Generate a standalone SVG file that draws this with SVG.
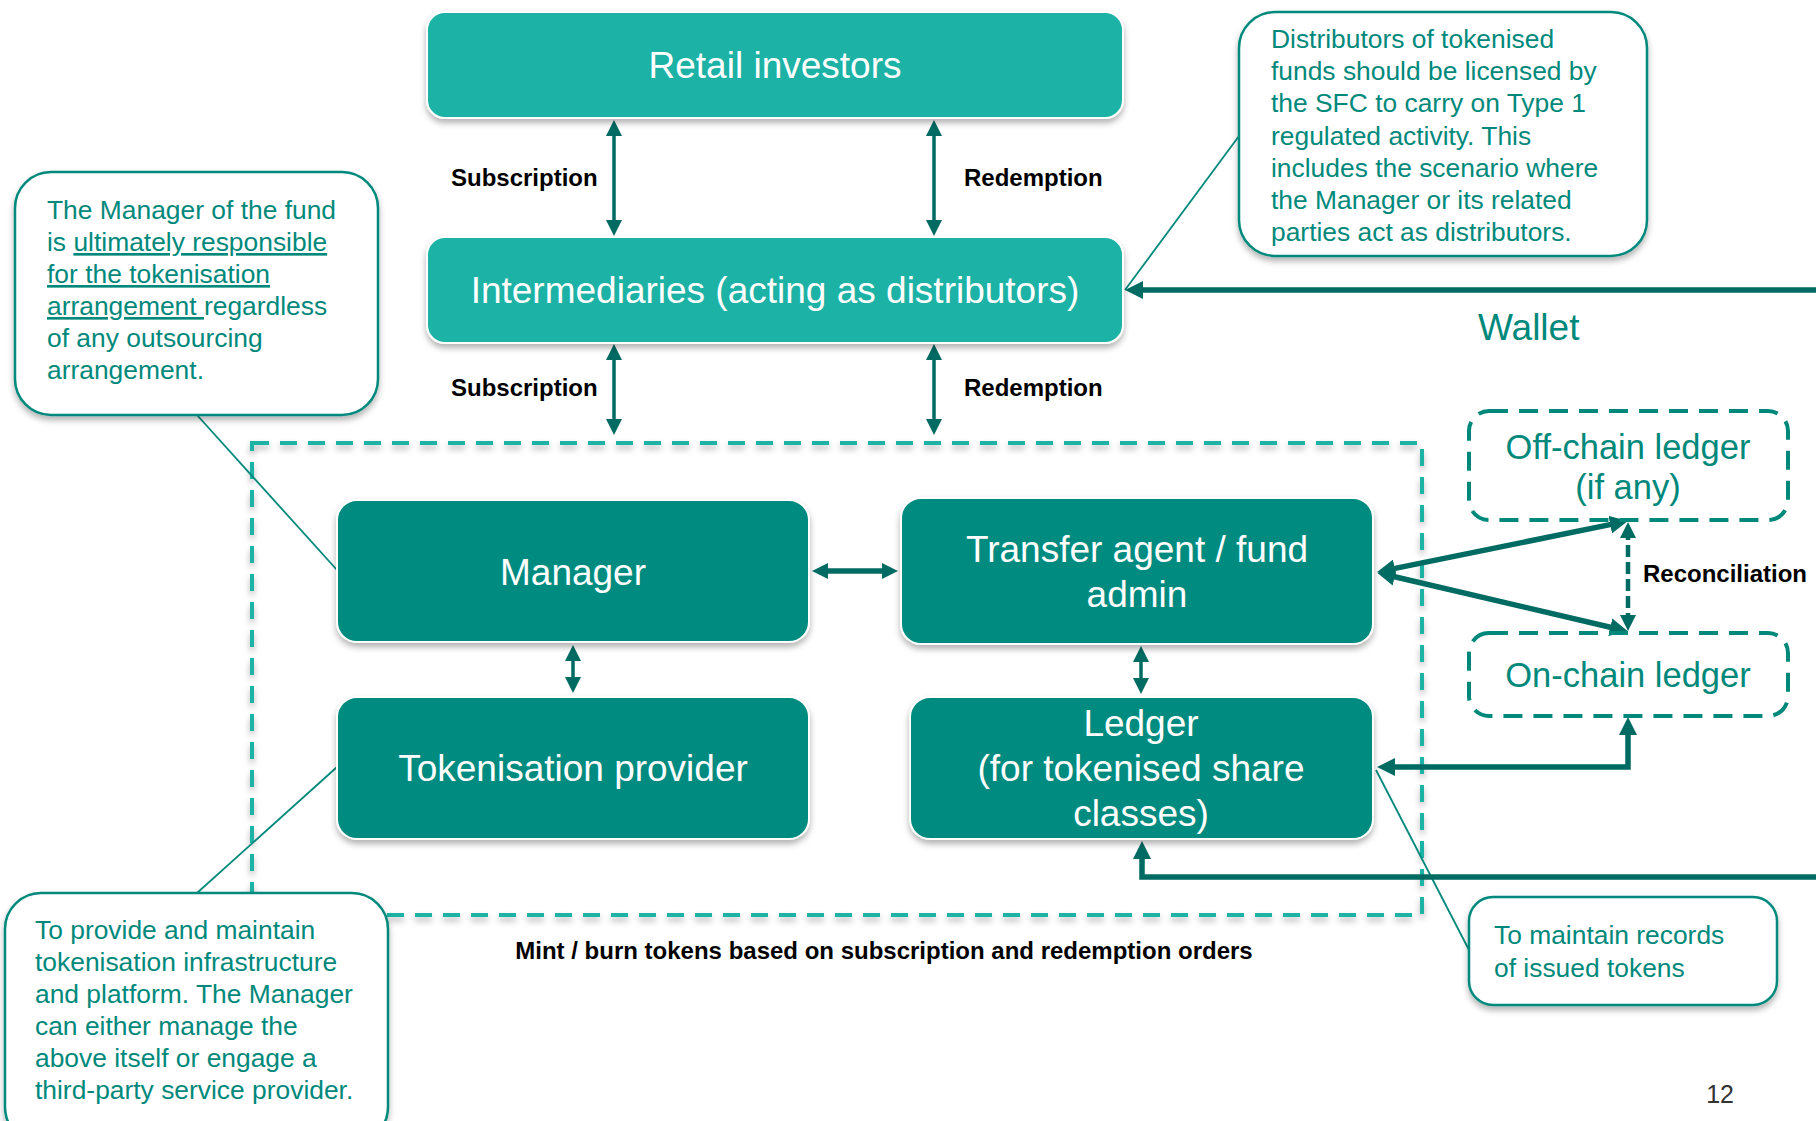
<svg xmlns="http://www.w3.org/2000/svg" width="1816" height="1121" viewBox="0 0 1816 1121">
  <style>
    text { font-family: "Liberation Sans", Arial, sans-serif; }
    .boxL { fill: #1ab2a5; stroke: #ffffff; stroke-width: 2; filter: url(#sh); }
    .boxD { fill: #008b80; stroke: #ffffff; stroke-width: 2; filter: url(#sh); }
    .btxt { fill: #ffffff; font-size: 37px; text-anchor: middle; }
    .lbl { fill: #000000; font-size: 24px; font-weight: bold; }
    .note { fill: #ffffff; stroke: #00897b; stroke-width: 2.5; filter: url(#sh); }
    .ntxt { fill: #00897b; font-size: 26.4px; }
    .u { text-decoration: underline; }
    .dbox { fill: none; stroke: #00897b; stroke-width: 4; stroke-dasharray: 19 11; }
    .dtxt { fill: #00897b; font-size: 34.5px; text-anchor: middle; }
    .arr { fill: none; stroke: #006b62; stroke-width: 3.5; marker-end: url(#ah); marker-start: url(#ah); }
    .arrT { fill: none; stroke: #006b62; stroke-width: 5.5; }
    .lead { fill: none; stroke: #00897b; stroke-width: 1.8; }
  </style>
  <defs>
    <filter id="sh" x="-10%" y="-10%" width="120%" height="130%">
      <feDropShadow dx="0" dy="4" stdDeviation="3" flood-color="#000000" flood-opacity="0.3"/>
    </filter>
    <marker id="ah" viewBox="0 0 16 16" markerUnits="userSpaceOnUse" markerWidth="16" markerHeight="16" refX="10" refY="8" orient="auto-start-reverse">
      <path d="M0,0 L16,8 L0,16 z" fill="#006b62"/>
    </marker>
    <marker id="ahB" viewBox="0 0 18 18" markerUnits="userSpaceOnUse" markerWidth="18" markerHeight="18" refX="11" refY="9" orient="auto-start-reverse">
      <path d="M0,0 L18,9 L0,18 z" fill="#006b62"/>
    </marker>
  </defs>

  <!-- fund boundary -->
  <rect id="fund-boundary" x="252" y="443" width="1170" height="472" fill="none" stroke="#1ab2a5" stroke-width="4" stroke-dasharray="17 11" filter="url(#sh)"/>

  <!-- connectors and leader lines -->
  <g id="connectors">
    <!-- leader lines from notes -->
    <line class="lead" x1="1239" y1="136" x2="1125" y2="290"/>
    <line class="lead" x1="197" y1="415" x2="337" y2="570"/>
    <line class="lead" x1="197" y1="893" x2="337" y2="767"/>
    <line class="lead" x1="1376" y1="770" x2="1469" y2="950"/>

    <!-- subscription / redemption -->
    <line class="arr" x1="614" y1="126" x2="614" y2="230"/>
    <line class="arr" x1="934" y1="126" x2="934" y2="230"/>
    <line class="arr" x1="614" y1="350" x2="614" y2="429"/>
    <line class="arr" x1="934" y1="350" x2="934" y2="429"/>

    <!-- inside the fund -->
    <line class="arrT" x1="818" y1="571" x2="892" y2="571" marker-start="url(#ah)" marker-end="url(#ah)"/>
    <line class="arr" x1="573" y1="651" x2="573" y2="687"/>
    <line class="arr" x1="1141" y1="652" x2="1141" y2="688"/>

    <!-- wallet -->
    <line class="arrT" x1="1816" y1="290" x2="1132" y2="290" marker-end="url(#ahB)"/>
    <polyline class="arrT" points="1816,877 1142,877 1142,848" marker-end="url(#ahB)"/>

    <!-- transfer agent to ledgers -->
    <line class="arrT" x1="1384" y1="570.6" x2="1621" y2="522.4" marker-start="url(#ahB)" marker-end="url(#ahB)"/>
    <line class="arrT" x1="1384" y1="574.3" x2="1621" y2="629.7" marker-start="url(#ahB)" marker-end="url(#ahB)"/>

    <!-- ledger to on-chain ledger -->
    <polyline class="arrT" points="1384,767 1628,767 1628,724" marker-start="url(#ahB)" marker-end="url(#ahB)"/>

    <!-- reconciliation -->
    <line x1="1628" y1="528" x2="1628" y2="625" stroke="#006b62" stroke-width="4.5" stroke-dasharray="12 5" marker-start="url(#ah)" marker-end="url(#ah)"/>
  </g>

  <!-- labels -->
  <g id="labels">
    <text class="lbl" x="451" y="186">Subscription</text>
    <text class="lbl" x="964" y="186">Redemption</text>
    <text class="lbl" x="451" y="396">Subscription</text>
    <text class="lbl" x="964" y="396">Redemption</text>
    <text class="lbl" x="1643" y="582">Reconciliation</text>
    <text class="lbl" x="884" y="959" text-anchor="middle">Mint / burn tokens based on subscription and redemption orders</text>
    <text x="1478" y="340" fill="#00897b" font-size="37">Wallet</text>
    <text x="1734" y="1103" fill="#333333" font-size="25" text-anchor="end">12</text>
  </g>

  <g id="retail-investors">
    <rect class="boxL" x="427" y="12" width="696" height="106" rx="18"/>
    <text class="btxt" x="775" y="78">Retail investors</text>
  </g>

  <g id="intermediaries">
    <rect class="boxL" x="427" y="237" width="696" height="106" rx="18"/>
    <text class="btxt" x="775" y="303">Intermediaries (acting as distributors)</text>
  </g>

  <g id="manager">
    <rect class="boxD" x="337" y="500" width="472" height="142" rx="20"/>
    <text class="btxt" x="573" y="585">Manager</text>
  </g>

  <g id="transfer-agent">
    <rect class="boxD" x="901" y="498" width="472" height="146" rx="20"/>
    <text class="btxt" x="1137" y="562">Transfer agent / fund</text>
    <text class="btxt" x="1137" y="607">admin</text>
  </g>

  <g id="tokenisation-provider">
    <rect class="boxD" x="337" y="697" width="472" height="142" rx="20"/>
    <text class="btxt" x="573" y="781">Tokenisation provider</text>
  </g>

  <g id="ledger">
    <rect class="boxD" x="910" y="697" width="463" height="142" rx="20"/>
    <text class="btxt" x="1141" y="736">Ledger</text>
    <text class="btxt" x="1141" y="781">(for tokenised share</text>
    <text class="btxt" x="1141" y="826">classes)</text>
  </g>

  <g id="off-chain-ledger">
    <rect class="dbox" x="1469" y="411" width="319" height="109" rx="20"/>
    <text class="dtxt" x="1628" y="459">Off-chain ledger</text>
    <text class="dtxt" x="1628" y="499">(if any)</text>
  </g>

  <g id="on-chain-ledger">
    <rect class="dbox" x="1469" y="633" width="319" height="83" rx="20"/>
    <text class="dtxt" x="1628" y="687">On-chain ledger</text>
  </g>

  <g id="note-distributors">
    <rect class="note" x="1239" y="12" width="408" height="244" rx="36"/>
    <text class="ntxt" x="1271" y="48">Distributors of tokenised</text>
    <text class="ntxt" x="1271" y="80">funds should be licensed by</text>
    <text class="ntxt" x="1271" y="112">the SFC to carry on Type 1</text>
    <text class="ntxt" x="1271" y="145">regulated activity. This</text>
    <text class="ntxt" x="1271" y="177">includes the scenario where</text>
    <text class="ntxt" x="1271" y="209">the Manager or its related</text>
    <text class="ntxt" x="1271" y="241">parties act as distributors.</text>
  </g>

  <g id="note-manager">
    <rect class="note" x="15" y="172" width="363" height="243" rx="36"/>
    <text class="ntxt" x="47" y="219">The Manager of the fund</text>
    <text class="ntxt" x="47" y="251">is <tspan class="u">ultimately responsible</tspan></text>
    <text class="ntxt" x="47" y="283"><tspan class="u">for the tokenisation</tspan></text>
    <text class="ntxt" x="47" y="315" xml:space="preserve"><tspan class="u">arrangement </tspan>regardless</text>
    <text class="ntxt" x="47" y="347">of any outsourcing</text>
    <text class="ntxt" x="47" y="379">arrangement.</text>
  </g>

  <g id="note-tokenisation">
    <rect class="note" x="5" y="893" width="383" height="250" rx="36"/>
    <text class="ntxt" x="35" y="939">To provide and maintain</text>
    <text class="ntxt" x="35" y="971">tokenisation infrastructure</text>
    <text class="ntxt" x="35" y="1003">and platform. The Manager</text>
    <text class="ntxt" x="35" y="1035">can either manage the</text>
    <text class="ntxt" x="35" y="1067">above itself or engage a</text>
    <text class="ntxt" x="35" y="1099">third-party service provider.</text>
  </g>

  <g id="note-records">
    <rect class="note" x="1469" y="897" width="308" height="108" rx="24"/>
    <text class="ntxt" x="1494" y="944">To maintain records</text>
    <text class="ntxt" x="1494" y="977">of issued tokens</text>
  </g>
</svg>
